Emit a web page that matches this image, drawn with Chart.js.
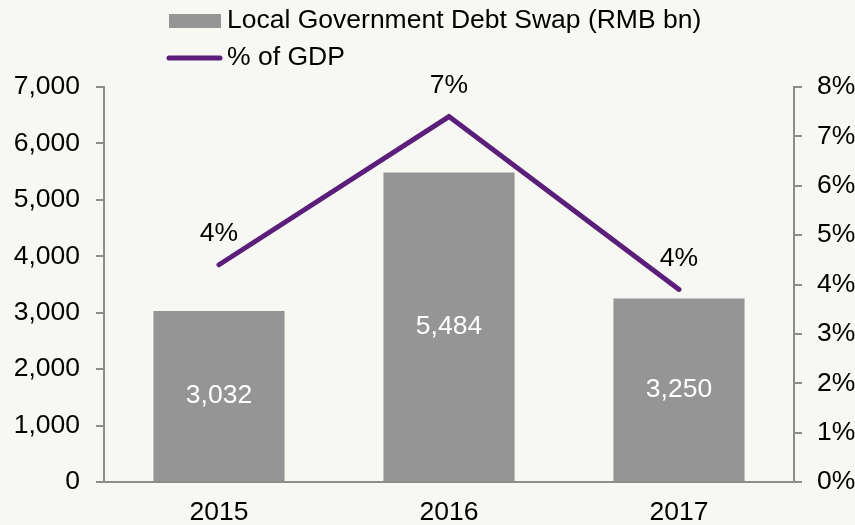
<!DOCTYPE html>
<html>
<head>
<meta charset="utf-8">
<script src="https://cdn.jsdelivr.net/npm/chart.js@4/dist/chart.umd.min.js"></script>
<style>
  html, body { margin: 0; padding: 0; background: #f7f7f3; }
  #wrap { width: 855px; height: 525px; position: relative; }
</style>
</head>
<body>
<div id="wrap"><canvas id="swap-chart" width="855" height="525"></canvas></div>
<script>
'use strict';

var years = ['2015', '2016', '2017'];
var swapValues = [3032, 5484, 3250];       // RMB bn
var gdpShare = [4.4, 7.4, 3.9];            // % of GDP
var leftTicks = [0, 1000, 2000, 3000, 4000, 5000, 6000, 7000];
var rightTicks = [0, 1, 2, 3, 4, 5, 6, 7, 8];

var barColor = '#959595';
var lineColor = '#5b1f7b';
var axisColor = '#8c8c8c';
var fontFamily = '"Liberation Sans", Arial, sans-serif';
var fontSize = 26.5;

// page background fill
var backdrop = {
  id: 'backdrop',
  beforeDraw: function(chart) {
    var ctx = chart.ctx;
    ctx.save();
    ctx.fillStyle = '#f7f7f3';
    ctx.fillRect(0, 0, chart.width, chart.height);
    ctx.restore();
  }
};

// value labels: white inside the bars, black above the line points
var valueLabels = {
  id: 'valueLabels',
  afterDatasetsDraw: function(chart) {
    var ctx = chart.ctx;
    ctx.save();
    ctx.font = fontSize + 'px ' + fontFamily;
    ctx.textAlign = 'center';
    ctx.textBaseline = 'middle';

    var bars = chart.getDatasetMeta(0).data;
    ctx.fillStyle = '#ffffff';
    bars.forEach(function(bar, i) {
      var mid = (bar.y + bar.base) / 2;
      ctx.fillText(swapValues[i].toLocaleString('en-US'), bar.x, mid);
    });

    var pts = chart.getDatasetMeta(1).data;
    ctx.fillStyle = '#000000';
    pts.forEach(function(pt, i) {
      ctx.fillText(Math.round(gdpShare[i]) + '%', pt.x, pt.y - 31);
    });
    ctx.restore();
  }
};

// two-row legend at the top left
var stackedLegend = {
  id: 'stackedLegend',
  afterDraw: function(chart) {
    var ctx = chart.ctx;
    ctx.save();
    ctx.font = fontSize + 'px ' + fontFamily;
    ctx.textBaseline = 'middle';
    ctx.fillStyle = barColor;
    ctx.fillRect(169, 14, 52, 14);
    ctx.fillStyle = '#000000';
    ctx.fillText(chart.data.datasets[0].label, 227, 21);

    ctx.strokeStyle = lineColor;
    ctx.lineWidth = 5;
    ctx.lineCap = 'round';
    ctx.beginPath();
    ctx.moveTo(169, 58);
    ctx.lineTo(220, 58);
    ctx.stroke();
    ctx.fillStyle = '#000000';
    ctx.fillText(chart.data.datasets[1].label, 227, 58);
    ctx.restore();
  }
};

var ctx = document.getElementById('swap-chart').getContext('2d');
var chart = new Chart(ctx, {
  data: {
    labels: years,
    datasets: [{
      type: 'bar',
      label: 'Local Government Debt Swap (RMB bn)',
      data: swapValues,
      backgroundColor: barColor,
      barPercentage: 0.57,
      categoryPercentage: 1,
      yAxisID: 'y',
      order: 2
    }, {
      type: 'line',
      label: '% of GDP',
      data: gdpShare,
      borderColor: lineColor,
      borderWidth: 5,
      borderCapStyle: 'round',
      pointRadius: 0,
      tension: 0,
      yAxisID: 'y1',
      order: 1
    }]
  },
  options: {
    responsive: false,
    animation: false,
    layout: { padding: { top: 87, bottom: 0, left: 0, right: 0 } },
    plugins: {
      legend: { display: false },
      tooltip: { enabled: false }
    },
    scales: {
      x: {
        grid: { drawOnChartArea: false, drawTicks: false },
        border: { display: true, color: axisColor, width: 2 },
        ticks: {
          color: '#000',
          font: { family: fontFamily, size: fontSize },
          padding: 15
        },
        afterFit: function(scale) { scale.height = 43; }
      },
      y: {
        position: 'left',
        min: 0,
        max: 7000,
        afterBuildTicks: function(scale) {
          scale.ticks = leftTicks.map(function(v) { return { value: v }; });
        },
        grid: { drawOnChartArea: false, drawTicks: true, tickLength: 8, color: axisColor, lineWidth: 2 },
        border: { display: true, color: axisColor, width: 2 },
        ticks: {
          color: '#000',
          font: { family: fontFamily, size: fontSize },
          padding: 16,
          callback: function(v) { return v.toLocaleString('en-US'); }
        },
        afterFit: function(scale) { scale.width = 104; }
      },
      y1: {
        position: 'right',
        min: 0,
        max: 8,
        afterBuildTicks: function(scale) {
          scale.ticks = rightTicks.map(function(v) { return { value: v }; });
        },
        grid: { drawOnChartArea: false, drawTicks: true, tickLength: 8, color: axisColor, lineWidth: 2 },
        border: { display: true, color: axisColor, width: 2 },
        ticks: {
          color: '#000',
          font: { family: fontFamily, size: fontSize },
          padding: 15,
          callback: function(v) { return v + '%'; }
        },
        afterFit: function(scale) { scale.width = 61; }
      }
    }
  },
  plugins: [backdrop, valueLabels, stackedLegend]
});
</script>
</body>
</html>
